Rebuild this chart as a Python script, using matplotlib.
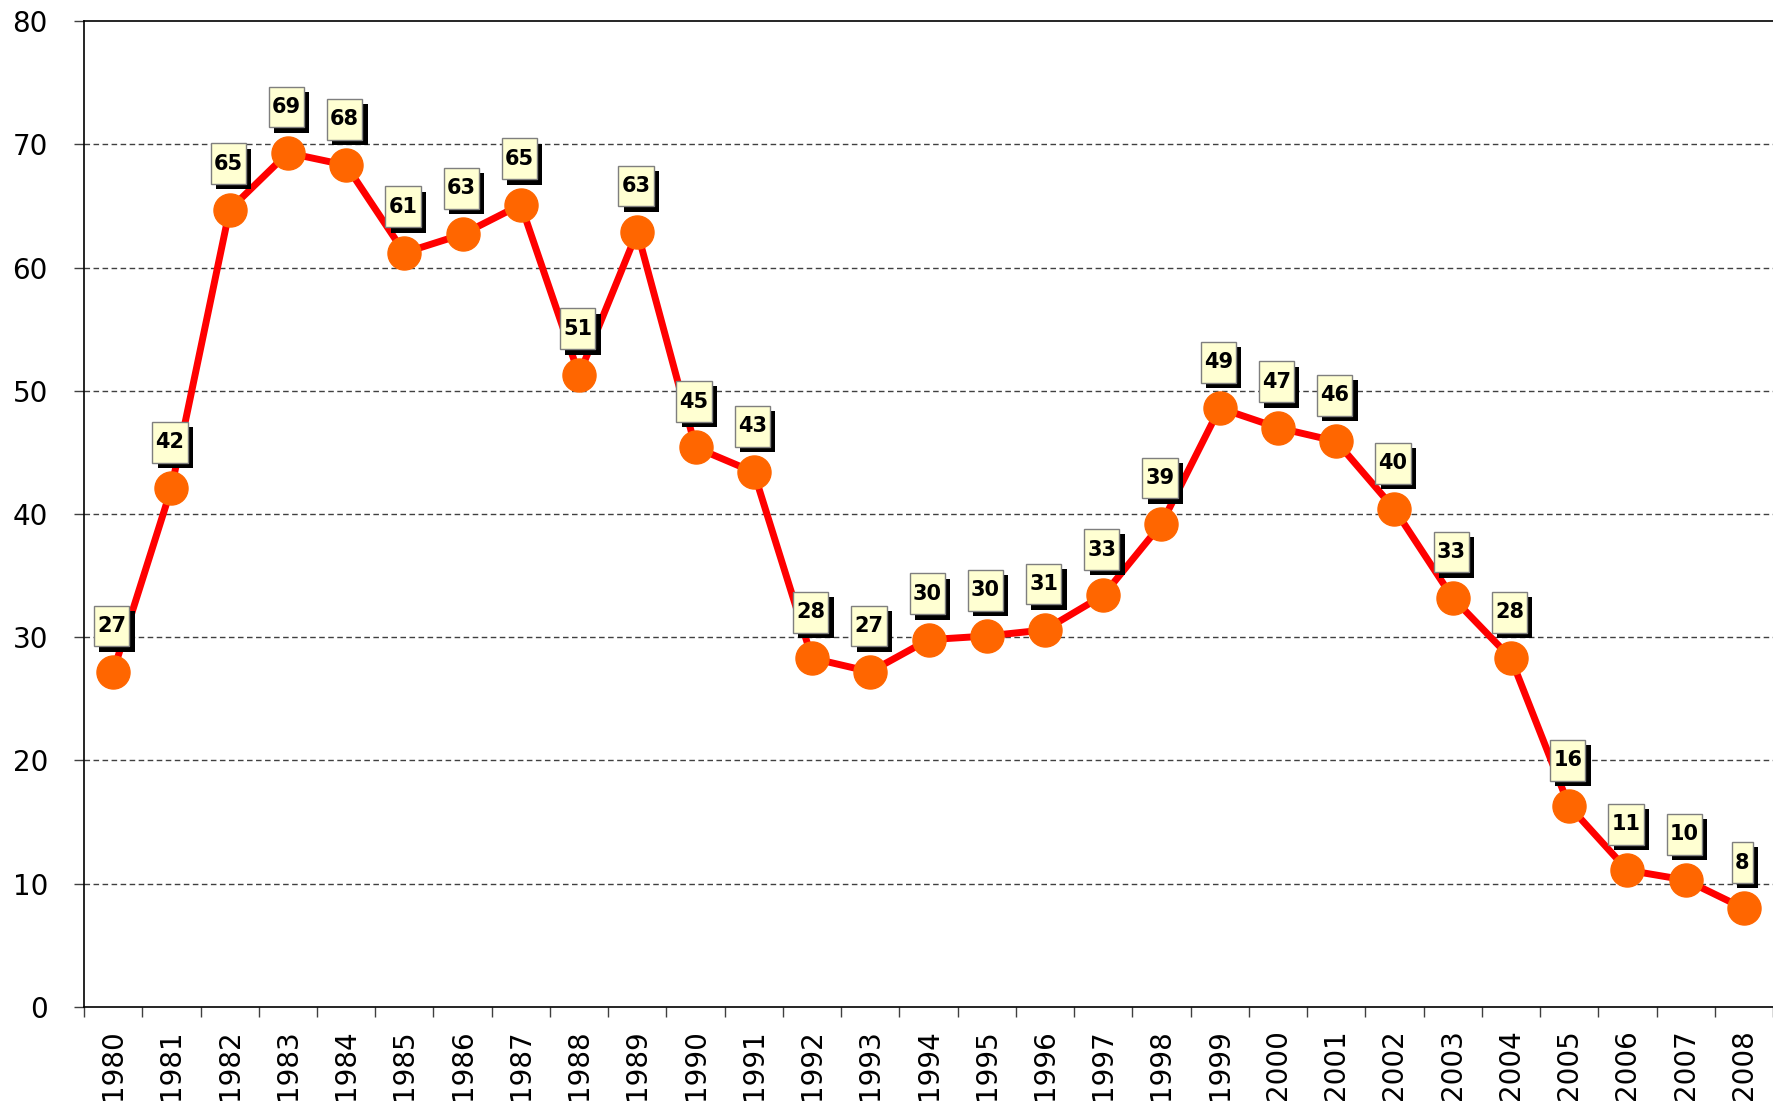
import matplotlib
matplotlib.use("Agg")
import matplotlib.pyplot as plt
import matplotlib.patheffects as pe
from matplotlib.path import Path

plt.rcParams['font.family'] = ['DejaVu Sans']

years = [str(y) for y in range(1980, 2009)]
values = [27.2, 42.1, 64.7, 69.3, 68.3, 61.2, 62.7, 65.1, 51.3, 62.9,
          45.4, 43.4, 28.3, 27.2, 29.8, 30.1, 30.6, 33.4, 39.2, 48.6,
          47.0, 45.9, 40.4, 33.2, 28.3, 16.3, 11.1, 10.3, 8.0]
yticks = [0, 10, 20, 30, 40, 50, 60, 70, 80]


def label_box(x0, y0, width, height, mutation_size):
    padx = 0.15 * mutation_size
    pady = 0.50 * mutation_size
    x0, y0 = x0 - padx, y0 - pady
    x1, y1 = x0 + width + 2 * padx, y0 + height + 2 * pady
    return Path([(x0, y0), (x1, y0), (x1, y1), (x0, y1), (x0, y0)], closed=True)


fig = plt.figure(figsize=(17.73, 11.01), dpi=100)
ax = fig.add_axes([0.0474, 0.0854, 0.9526, 0.8955])

x = list(range(len(years)))
ax.plot(x, values, color='#FF0000', lw=5, zorder=3, clip_on=False, solid_joinstyle='round')
ax.plot(x, values, ls='none', marker='o', ms=23.8, mfc='#FF6600', mec='#FF6600',
        zorder=4, clip_on=False)

for xi, v in zip(x, values):
    t = ax.annotate(f"{v:.0f}", (xi, v), xytext=(-1, 33), textcoords='offset points',
                    ha='center', va='center', fontsize=15, fontweight='bold',
                    color='black', zorder=6,
                    bbox=dict(boxstyle=label_box, fc='#FFFFD2', ec='#7F7F7F', lw=1.0))
    t.get_bbox_patch().set_path_effects([
        pe.SimplePatchShadow(offset=(3.8, -3.8), shadow_rgbFace='black', alpha=1.0),
        pe.Normal()])

ax.set_ylim(0, 80)
ax.set_xlim(-0.5, len(years) - 0.5)
ax.set_yticks(yticks)
ax.set_yticklabels([str(t) for t in yticks], fontsize=20)
for t in yticks[1:-1]:
    ax.axhline(t, color='#404040', lw=1.0, ls=(0, (4, 2.5)), zorder=1)

ax.set_xticks(x)
ax.set_xticklabels(years, rotation=90, fontsize=20)
ax.set_xticks([i - 0.5 for i in range(len(years) + 1)], minor=True)
ax.tick_params(axis='x', which='major', length=0, pad=16)
ax.tick_params(axis='x', which='minor', length=7, width=1, color='#404040', direction='out')
ax.tick_params(axis='y', length=7, width=1, color='#404040', direction='out', pad=19)

for s in ['left', 'bottom', 'top']:
    ax.spines[s].set_color('black')
    ax.spines[s].set_linewidth(1.2)
ax.spines['right'].set_visible(False)

fig.savefig('out.png', dpi=100)
